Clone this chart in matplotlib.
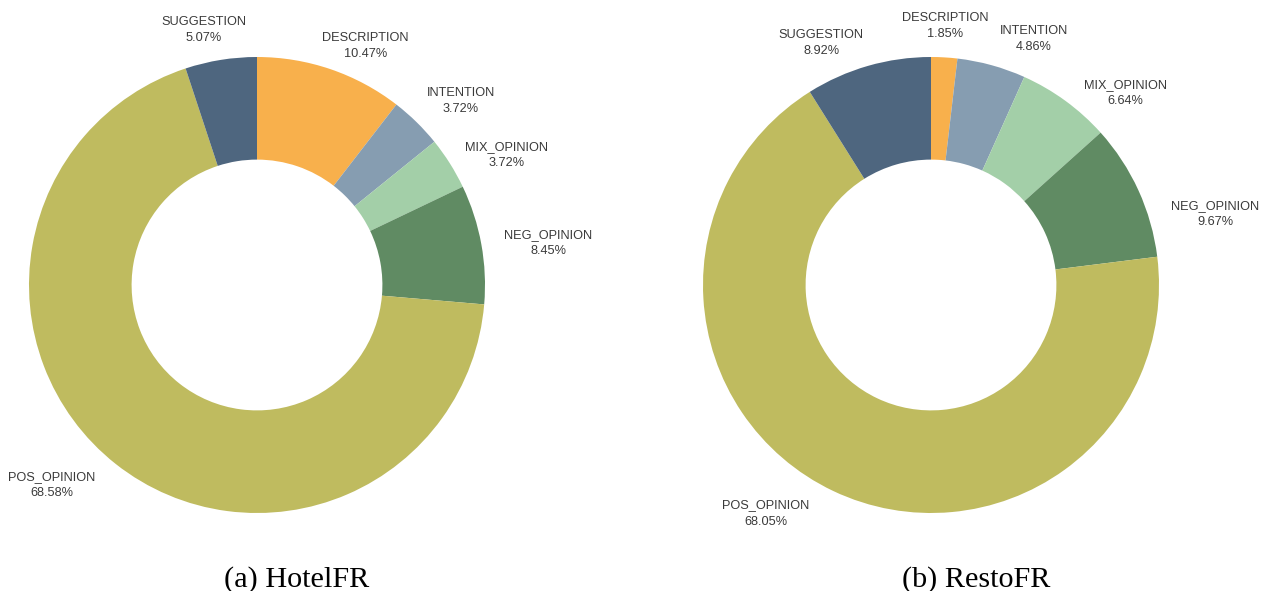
import numpy as np
import matplotlib.pyplot as plt

# slice order, clockwise from 12 o'clock
categories = ["DESCRIPTION", "INTENTION", "MIX_OPINION", "NEG_OPINION", "POS_OPINION", "SUGGESTION"]
hotel_pct = [10.47, 3.72, 3.72, 8.45, 68.58, 5.07]
resto_pct = [1.85, 4.86, 6.64, 9.67, 68.05, 8.92]
captions = ["(a) HotelFR", "(b) RestoFR"]

colors = ["#F8B04C", "#869DB1", "#A3CFA8", "#608B63", "#BFBB5F", "#4E667F"]

# label nudges in pixels (right, down) from the point at 1.1*R on the mid angle
hotel_nudge = [(27.5, -1.6), (28.6, -4.8), (37.8, 3.7), (44.8, 2.9), (-49.4, 3.3), (-13.7, -6.9)]
resto_nudge = [(-0.1, -8.6), (36.4, -4.2), (46.2, 10.6), (56.0, 33.0), (-57.6, 1.9), (-40.5, -1.0)]

W, H = 1261, 591
R = 228  # outer radius in pixels
fig = plt.figure(figsize=(W / 100, H / 100), dpi=100)


def donut(cx, cy, values, nudges):
    ax = fig.add_axes([(cx - R) / W, (H - cy - R) / H, 2 * R / W, 2 * R / H])
    wedges, _ = ax.pie(values, colors=colors, startangle=90, counterclock=False,
                       radius=1, wedgeprops=dict(width=0.45, linewidth=0))
    ax.set_xlim(-1, 1)
    ax.set_ylim(-1, 1)
    ax.set_aspect("equal")
    ax.set_axis_off()
    for w, name, v, (nx, ny) in zip(wedges, categories, values, nudges):
        ang = np.deg2rad((w.theta1 + w.theta2) / 2)
        x = 1.1 * np.cos(ang) + nx / R
        y = 1.1 * np.sin(ang) - ny / R
        ax.text(x, y, f"{name}\n{v:.2f}%", ha="center", va="center",
                fontsize=9.2, color="#3a3a3a", family="Liberation Sans",
                linespacing=1.45, clip_on=False)


donut(257, 285, hotel_pct, hotel_nudge)
donut(931, 285, resto_pct, resto_nudge)

fig.text(297 / W, 1 - 580 / H, captions[0], ha="center", va="center",
         fontsize=21.8, family="Liberation Serif")
fig.text(976 / W, 1 - 580 / H, captions[1], ha="center", va="center",
         fontsize=21.8, family="Liberation Serif")

fig.savefig("out.png", dpi=100)
